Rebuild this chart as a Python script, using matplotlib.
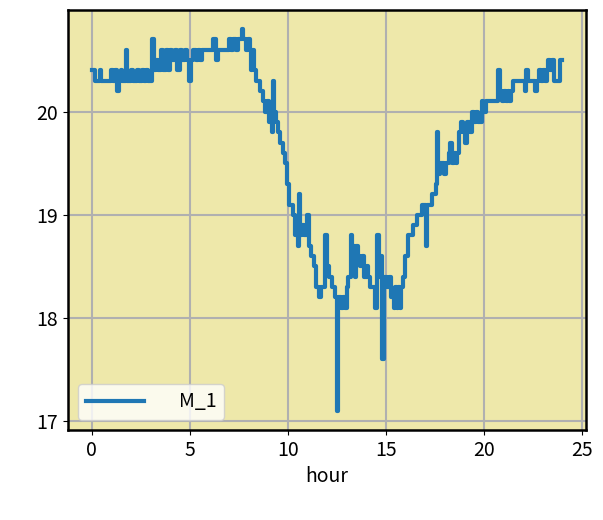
import numpy as np
import matplotlib
matplotlib.use('Agg')
import matplotlib.pyplot as plt

plt.rcParams['font.family'] = ['Noto Sans CJK JP', 'DejaVu Sans']
plt.rcParams['font.size'] = 14

# change points of the M_1 series (hour, value)
hours = [
    0.0, 0.2, 0.45, 0.5, 1.0, 1.1, 1.2, 1.3, 1.38, 1.5, 1.55, 1.75, 1.82, 2.0, 2.1, 2.3, 2.4,
    2.55, 2.65, 2.8, 2.9, 3.1, 3.2, 3.3, 3.4, 3.55, 3.65, 3.8, 3.9, 4.0, 4.1, 4.25, 4.35, 4.5,
    4.6, 4.75, 4.85, 4.95, 5.05, 5.15, 5.3, 5.4, 5.55, 5.65, 5.8, 5.9, 6.2, 6.35, 6.45, 7.0,
    7.1, 7.2, 7.35, 7.45, 7.65, 7.72, 7.85, 7.95, 8.05, 8.15, 8.2, 8.3, 8.4, 8.6, 8.75, 8.85,
    8.95, 9.05, 9.12, 9.2, 9.25, 9.3, 9.4, 9.5, 9.6, 9.75, 9.85, 9.95, 10.05, 10.25, 10.35,
    10.42, 10.5, 10.55, 10.62, 10.75, 10.85, 11.0, 11.08, 11.2, 11.35, 11.45, 11.6, 11.7, 11.9,
    12.0, 12.1, 12.25, 12.4, 12.5, 12.58, 12.7, 12.8, 12.9, 13.0, 13.05, 13.2, 13.28, 13.35,
    13.45, 13.5, 13.6, 13.7, 13.8, 13.9, 14.05, 14.1, 14.2, 14.45, 14.55, 14.65, 14.75, 14.82,
    14.9, 15.05, 15.15, 15.25, 15.4, 15.45, 15.55, 15.6, 15.7, 15.75, 15.85, 16.0, 16.15, 16.4,
    16.6, 16.85, 17.05, 17.12, 17.35, 17.55, 17.6, 17.65, 17.75, 17.95, 18.05, 18.2, 18.25,
    18.35, 18.45, 18.55, 18.65, 18.75, 18.85, 18.95, 19.05, 19.15, 19.3, 19.4, 19.5, 19.6, 19.7,
    19.9, 19.95, 20.1, 20.7, 20.8, 20.9, 21.0, 21.1, 21.2, 21.3, 21.4, 21.5, 22.1, 22.15, 22.25,
    22.6, 22.7, 22.8, 22.9, 23.0, 23.1, 23.2, 23.25, 23.35, 23.45, 23.55, 23.9, 24.0,
]
m1 = [
    20.4, 20.3, 20.4, 20.3, 20.4, 20.3, 20.4, 20.2, 20.3, 20.4, 20.3, 20.6, 20.3, 20.4, 20.3, 20.4, 20.3,
    20.4, 20.3, 20.4, 20.3, 20.7, 20.4, 20.5, 20.4, 20.6, 20.4, 20.6, 20.4, 20.6, 20.5, 20.6, 20.4, 20.6,
    20.5, 20.6, 20.5, 20.3, 20.5, 20.6, 20.5, 20.6, 20.5, 20.6, 20.6, 20.6, 20.7, 20.5, 20.6, 20.7,
    20.6, 20.7, 20.6, 20.7, 20.8, 20.7, 20.6, 20.7, 20.6, 20.4, 20.6, 20.4, 20.3, 20.2, 20.1, 20.0,
    20.1, 19.9, 20.0, 19.8, 20.3, 20.0, 19.9, 19.8, 19.7, 19.6, 19.5, 19.3, 19.1, 19.0, 18.8,
    18.9, 18.7, 19.2, 18.8, 18.9, 18.8, 19.0, 18.7, 18.6, 18.5, 18.3, 18.2, 18.3, 18.8,
    18.5, 18.4, 18.3, 18.2, 17.1, 18.2, 18.1, 18.2, 18.1, 18.3, 18.4, 18.8, 18.5, 18.7,
    18.4, 18.7, 18.6, 18.5, 18.6, 18.4, 18.5, 18.4, 18.3, 18.1, 18.8, 18.4, 18.6, 17.6,
    18.4, 18.3, 18.4, 18.2, 18.1, 18.3, 18.1, 18.3, 18.1, 18.3, 18.4, 18.6, 18.8, 18.9,
    19.0, 19.1, 18.7, 19.1, 19.2, 19.3, 19.8, 19.4, 19.5, 19.4, 19.5, 19.6, 19.7,
    19.5, 19.6, 19.5, 19.6, 19.8, 19.9, 19.8, 19.7, 19.9, 19.8, 20.0, 19.9, 20.0, 19.9,
    20.1, 20.0, 20.1, 20.4, 20.2, 20.1, 20.2, 20.1, 20.2, 20.1, 20.2, 20.3, 20.2, 20.4, 20.3,
    20.2, 20.3, 20.4, 20.3, 20.4, 20.3, 20.4, 20.5, 20.4, 20.5, 20.3, 20.5, 20.5,
]

fig = plt.figure(figsize=(6.03, 5.2), dpi=100)
ax = fig.add_axes([0.1128, 0.1731, 0.859, 0.8077])
ax.set_facecolor('#eee8aa')

ax.plot(hours, m1, drawstyle='steps-post', color='#1f77b4', linewidth=3, label='M_1')

ax.set_xticks([0, 5, 10, 15, 20, 25])
ax.set_yticks([17, 18, 19, 20])
ax.grid(True, color='#b0b0b0', linewidth=1.5)
ax.set_axisbelow(True)
for s in ax.spines.values():
    s.set_linewidth(1.8)
ax.set_xlabel('hour')
ax.legend(loc='lower left', handlelength=3.0, handletextpad=1.8)

plt.savefig('out.png', dpi=100)
